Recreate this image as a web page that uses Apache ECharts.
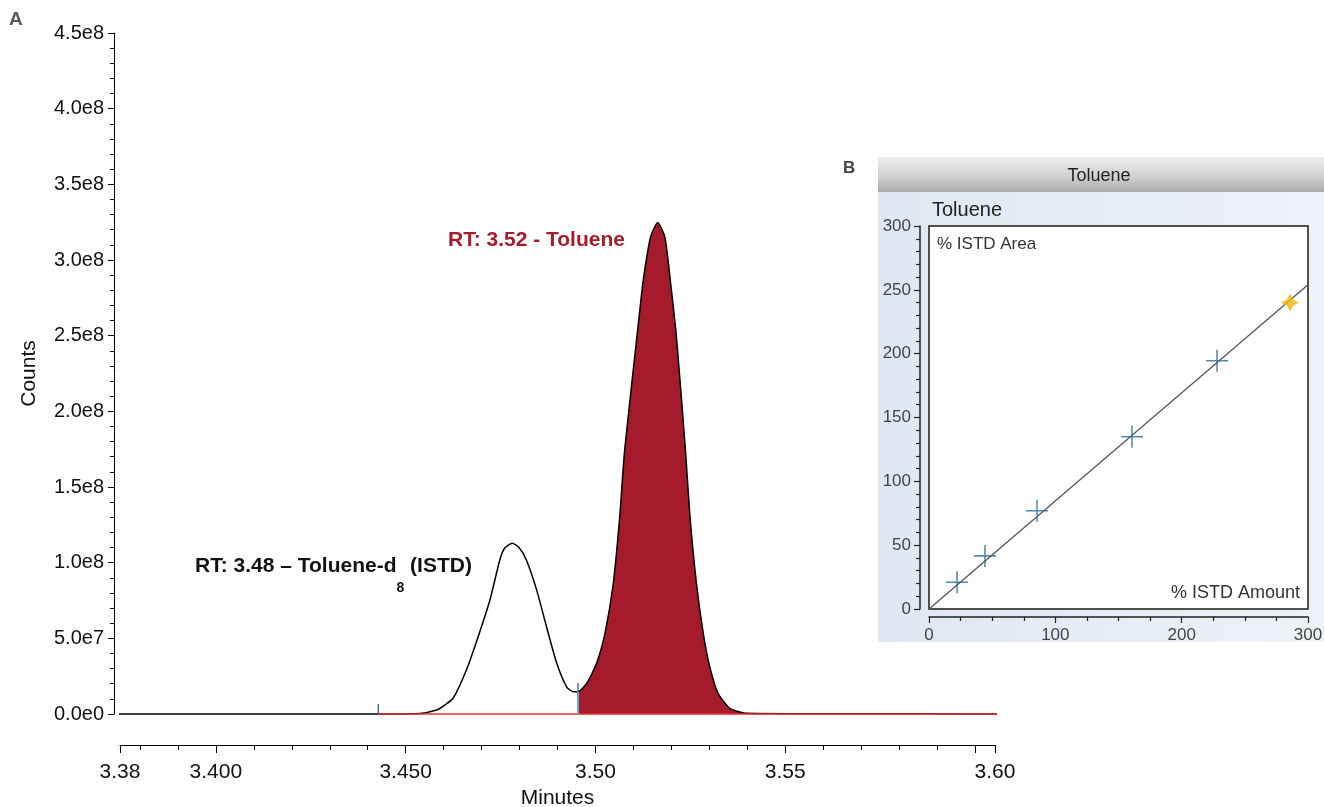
<!DOCTYPE html>
<html>
<head>
<meta charset="utf-8">
<title>Toluene chromatogram and calibration</title>
<script src="https://cdn.jsdelivr.net/npm/echarts@6.0.0/dist/echarts.min.js"></script>
<style>
  html, body { margin: 0; padding: 0; background: #fff; }
  #chart { width: 1324px; height: 807px; }
</style>
</head>
<body>
<div id="chart"></div>
<script>
// --- panel A: chromatogram (retention time in minutes, counts) ---
const rtMinutes = [
  3.3742, 3.4300, 3.4430, 3.4537, 3.4581, 3.4603, 3.4625, 3.4660, 3.4691, 3.4722,
  3.4748, 3.4761, 3.4781, 3.4798, 3.4818, 3.4845, 3.4871, 3.4898, 3.4924, 3.4941,
  3.4954, 3.4977, 3.5003, 3.5025, 3.5047, 3.5064, 3.5077, 3.5117, 3.5126, 3.5145,
  3.5164, 3.5183, 3.5198, 3.5214, 3.5237, 3.5249, 3.5266, 3.5284, 3.5301, 3.5323,
  3.5354, 3.5398, 3.5600, 3.6065
]
const counts = [
  0, 0, 0, 3e5, 2.6e6, 5.9e6, 1.04e7, 2.91e7, 5.11e7, 7.53e7,
  1.018e8, 1.097e8, 1.128e8, 1.102e8, 1.018e8, 8.2e7, 5.77e7, 3.35e7, 1.8e7, 1.47e7,
  1.47e7, 2.03e7, 3.35e7, 5.33e7, 8.64e7, 1.304e8, 1.745e8, 2.67e8, 2.869e8, 3.15e8,
  3.247e8, 3.15e8, 2.847e8, 2.472e8, 1.745e8, 1.304e8, 8.64e7, 5.33e7, 3.13e7, 1.37e7,
  3.8e6, 5e5, 2e5, 0
]
// integrated toluene peak window and baseline
const toluStart = 3.4954
const toluEnd = 3.5600
const baselineStart = 3.4428
const baselineEnd = 3.6065
// integration markers
const markRt = [3.4428, 3.4954]
const markTop = [6.6e6, 2.05e7]
const valleyCount = 1.47e7

// axis ticks / labels
const xMin = 3.37474
const xMax = 3.60526
const xLabelValues = [xMin, 3.40, 3.45, 3.50, 3.55, xMax]
const xLabelTexts = ['3.38', '3.400', '3.450', '3.50', '3.55', '3.60']
const xMinorTicks = [3.38, 3.39, 3.40, 3.41, 3.42, 3.43, 3.44, 3.45, 3.46, 3.47, 3.48,
  3.49, 3.50, 3.51, 3.52, 3.53, 3.54, 3.55, 3.56, 3.57, 3.58, 3.59, 3.60]
const xMajorTicks = [xMin, 3.40, 3.45, 3.50, 3.55, 3.60, xMax]

// --- panel B: calibration curve ---
const calAmount = [22.2, 44.3, 85.5, 160.7, 228]
const calArea = [21, 41.6, 76.9, 135, 194.5]
const unknownAmount = [285.8]
const unknownArea = [240]
const fitAmount = [0, 300]
const fitArea = [0, 254]

const FONT = '"Liberation Sans", Arial, Helvetica, sans-serif'

const trace = rtMinutes.map((t, i) => [t, counts[i]])
const tolueneArea = trace.filter(p => p[0] >= toluStart && p[0] <= toluEnd)

const sciLabel = (v) => {
  if (v === 0) return '0.0e0'
  const e = Math.floor(Math.log10(v) + 1e-9)
  return (v / Math.pow(10, e)).toFixed(1) + 'e' + e
}
const xLabel = (v) => {
  let best = 0
  xLabelValues.forEach((x, i) => {
    if (Math.abs(x - v) < Math.abs(xLabelValues[best] - v)) best = i
  })
  return xLabelTexts[best]
}

const chart = echarts.init(document.getElementById('chart'))

const option = {
  backgroundColor: '#fff',
  animation: false,
  textStyle: { fontFamily: FONT },
  grid: [
    { left: 120, right: 329, top: 33, bottom: 93, containLabel: false, outerBoundsMode: 'none' },
    {
      left: 929, right: 16, top: 226, bottom: 198, containLabel: false, outerBoundsMode: 'none',
      show: true, backgroundColor: '#fff', borderColor: '#1a1a1a', borderWidth: 1.5, z: 2
    }
  ],
  xAxis: [
    {
      type: 'value', gridIndex: 0, min: xMin, max: xMax, position: 'bottom', offset: 31,
      name: 'Minutes', nameLocation: 'middle', nameGap: 43,
      nameTextStyle: { fontSize: 21, color: '#111', fontFamily: FONT },
      axisLine: { show: true, onZero: false, lineStyle: { color: '#000', width: 1 } },
      axisTick: { show: true, customValues: xMinorTicks, length: 5, lineStyle: { color: '#000' } },
      axisLabel: {
        customValues: xLabelValues, formatter: xLabel, margin: 17,
        fontSize: 21, color: '#111', fontFamily: FONT
      },
      splitLine: { show: false }
    },
    {
      type: 'value', gridIndex: 0, min: xMin, max: xMax, position: 'bottom', offset: 31,
      axisLine: { show: false, onZero: false },
      axisTick: { show: true, customValues: xMajorTicks, length: 8, lineStyle: { color: '#000' } },
      axisLabel: { show: false },
      splitLine: { show: false }
    },
    {
      type: 'value', gridIndex: 1, min: 0, max: 300, interval: 100, position: 'bottom', offset: 8,
      axisLine: { show: true, onZero: false, lineStyle: { color: '#222', width: 1.5 } },
      axisTick: { show: true, length: 6, lineStyle: { color: '#222', width: 1.2 } },
      minorTick: { show: true, splitNumber: 4, length: 4, lineStyle: { color: '#222', width: 1.2 } },
      axisLabel: { fontSize: 17, color: '#444', margin: 10, fontFamily: FONT },
      splitLine: { show: false }, minorSplitLine: { show: false }
    }
  ],
  yAxis: [
    {
      type: 'value', gridIndex: 0, min: 0, max: 4.5e8, interval: 5e7, offset: 6,
      name: 'Counts', nameLocation: 'middle', nameGap: 74,
      nameTextStyle: { fontSize: 21, color: '#111', fontFamily: FONT },
      axisLine: { show: true, onZero: false, lineStyle: { color: '#000', width: 1 } },
      axisTick: { show: true, length: 6, lineStyle: { color: '#000' } },
      minorTick: { show: true, splitNumber: 5, length: 4, lineStyle: { color: '#000' } },
      axisLabel: { formatter: sciLabel, fontSize: 20, color: '#111', margin: 10, fontFamily: FONT },
      splitLine: { show: false }, minorSplitLine: { show: false }
    },
    {
      type: 'value', gridIndex: 1, min: 0, max: 300, interval: 50, offset: 9,
      axisLine: { show: true, onZero: false, lineStyle: { color: '#222', width: 1.5 } },
      axisTick: { show: true, length: 6, lineStyle: { color: '#222', width: 1.2 } },
      minorTick: { show: true, splitNumber: 5, length: 4, lineStyle: { color: '#222', width: 1.2 } },
      axisLabel: { fontSize: 17, color: '#444', margin: 9, fontFamily: FONT },
      splitLine: { show: false }, minorSplitLine: { show: false }
    }
  ],
  series: [
    {
      name: 'Toluene area', type: 'line', xAxisIndex: 0, yAxisIndex: 0,
      data: tolueneArea, smooth: 0.2, showSymbol: false, clip: false,
      lineStyle: { width: 0 }, areaStyle: { color: '#a51b2c', opacity: 1 }, z: 2
    },
    {
      name: 'Chromatogram', type: 'line', xAxisIndex: 0, yAxisIndex: 0,
      data: trace, smooth: 0.2, showSymbol: false, clip: false,
      lineStyle: { color: '#000', width: 1.5 }, z: 3
    },
    {
      name: 'Baseline', type: 'line', xAxisIndex: 0, yAxisIndex: 0,
      data: [[baselineStart, 0], [baselineEnd, 0]], showSymbol: false, clip: false,
      lineStyle: { color: '#ee2a2a', width: 1.6 }, z: 4
    },
    {
      name: 'Marker 1', type: 'line', xAxisIndex: 0, yAxisIndex: 0,
      data: [[markRt[0], 0], [markRt[0], markTop[0]]], showSymbol: false,
      lineStyle: { color: '#3f5fae', width: 1.4 }, z: 5
    },
    {
      name: 'Marker 2', type: 'line', xAxisIndex: 0, yAxisIndex: 0,
      data: [[markRt[1], 0], [markRt[1], markTop[1]]], showSymbol: false,
      lineStyle: { color: '#3f5fae', width: 1.4 }, z: 5
    },
    {
      name: 'Marker 2 low', type: 'line', xAxisIndex: 0, yAxisIndex: 0,
      data: [[markRt[1], 0], [markRt[1], valleyCount]], showSymbol: false,
      lineStyle: { color: '#45c4e6', width: 1.6 }, z: 6
    },
    {
      name: 'Fit', type: 'line', xAxisIndex: 2, yAxisIndex: 1,
      data: fitAmount.map((x, i) => [x, fitArea[i]]), showSymbol: false,
      lineStyle: { color: '#555', width: 1.3 }, z: 5
    },
    {
      name: 'Calibration', type: 'scatter', xAxisIndex: 2, yAxisIndex: 1,
      data: calAmount.map((x, i) => [x, calArea[i]]),
      symbol: 'path://M0,9.3H20V10.7H0Z M9.3,0H10.7V20H9.3Z', symbolSize: 22,
      itemStyle: { color: '#2b6a94' }, z: 6
    },
    {
      name: 'Sample', type: 'scatter', xAxisIndex: 2, yAxisIndex: 1,
      data: unknownAmount.map((x, i) => [x, unknownArea[i]]),
      symbol: 'path://M10,0L13.5,6.5L20,10L13.5,13.5L10,20L6.5,13.5L0,10L6.5,6.5Z', symbolSize: 18,
      itemStyle: { color: '#f2b50c' }, z: 7
    }
  ],
  graphic: [
    {
      type: 'rect', z: -10, shape: { x: 878, y: 192, width: 446, height: 450 },
      style: {
        fill: new echarts.graphic.LinearGradient(0, 0, 1, 0, [
          { offset: 0, color: '#dfe7f2' }, { offset: 1, color: '#edf2f8' }
        ])
      }
    },
    {
      type: 'rect', z: -9, shape: { x: 878, y: 157, width: 446, height: 35 },
      style: {
        fill: new echarts.graphic.LinearGradient(0, 0, 0, 1, [
          { offset: 0, color: '#ececec' }, { offset: 0.55, color: '#d2d2d2' }, { offset: 1, color: '#a8a8a8' }
        ])
      }
    },
    {
      type: 'text', z: 100, x: 1099, y: 176,
      style: { text: 'Toluene', fontSize: 18, fontFamily: FONT, fill: '#222', align: 'center', verticalAlign: 'middle' }
    },
    {
      type: 'text', z: 100, x: 932, y: 210,
      style: { text: 'Toluene', fontSize: 20, fontFamily: FONT, fill: '#222', align: 'left', verticalAlign: 'middle' }
    },
    {
      type: 'text', z: 100, x: 937, y: 244,
      style: { text: '% ISTD Area', fontSize: 17, fontFamily: FONT, fill: '#333', align: 'left', verticalAlign: 'middle' }
    },
    {
      type: 'text', z: 100, x: 1300, y: 593,
      style: { text: '% ISTD Amount', fontSize: 18, fontFamily: FONT, fill: '#333', align: 'right', verticalAlign: 'middle' }
    },
    {
      type: 'text', z: 100, x: 9, y: 20,
      style: { text: 'A', fontSize: 19, fontWeight: 'bold', fontFamily: FONT, fill: '#5a5a5a', align: 'left', verticalAlign: 'middle' }
    },
    {
      type: 'text', z: 100, x: 843, y: 168,
      style: { text: 'B', fontSize: 17, fontWeight: 'bold', fontFamily: FONT, fill: '#444', align: 'left', verticalAlign: 'middle' }
    },
    {
      type: 'text', z: 100, x: 448, y: 240,
      style: { text: 'RT: 3.52 - Toluene', fontSize: 21, fontWeight: 'bold', fontFamily: FONT, fill: '#a51c2e', align: 'left', verticalAlign: 'middle' }
    },
    {
      type: 'text', z: 100, x: 195, y: 556,
      style: {
        text: '{m|RT: 3.48 – Toluene-d}{s|8}{m| (ISTD)}',
        align: 'left', verticalAlign: 'top',
        rich: {
          m: { fontSize: 21, fontWeight: 'bold', fontFamily: FONT, fill: '#111', lineHeight: 24, verticalAlign: 'top' },
          s: { fontSize: 14, fontWeight: 'bold', fontFamily: FONT, fill: '#111', lineHeight: 14, verticalAlign: 'top', padding: [25, 0, 0, 0] }
        }
      }
    }
  ]
}

chart.setOption(option)
window.addEventListener('resize', () => chart.resize())
</script>
</body>
</html>
